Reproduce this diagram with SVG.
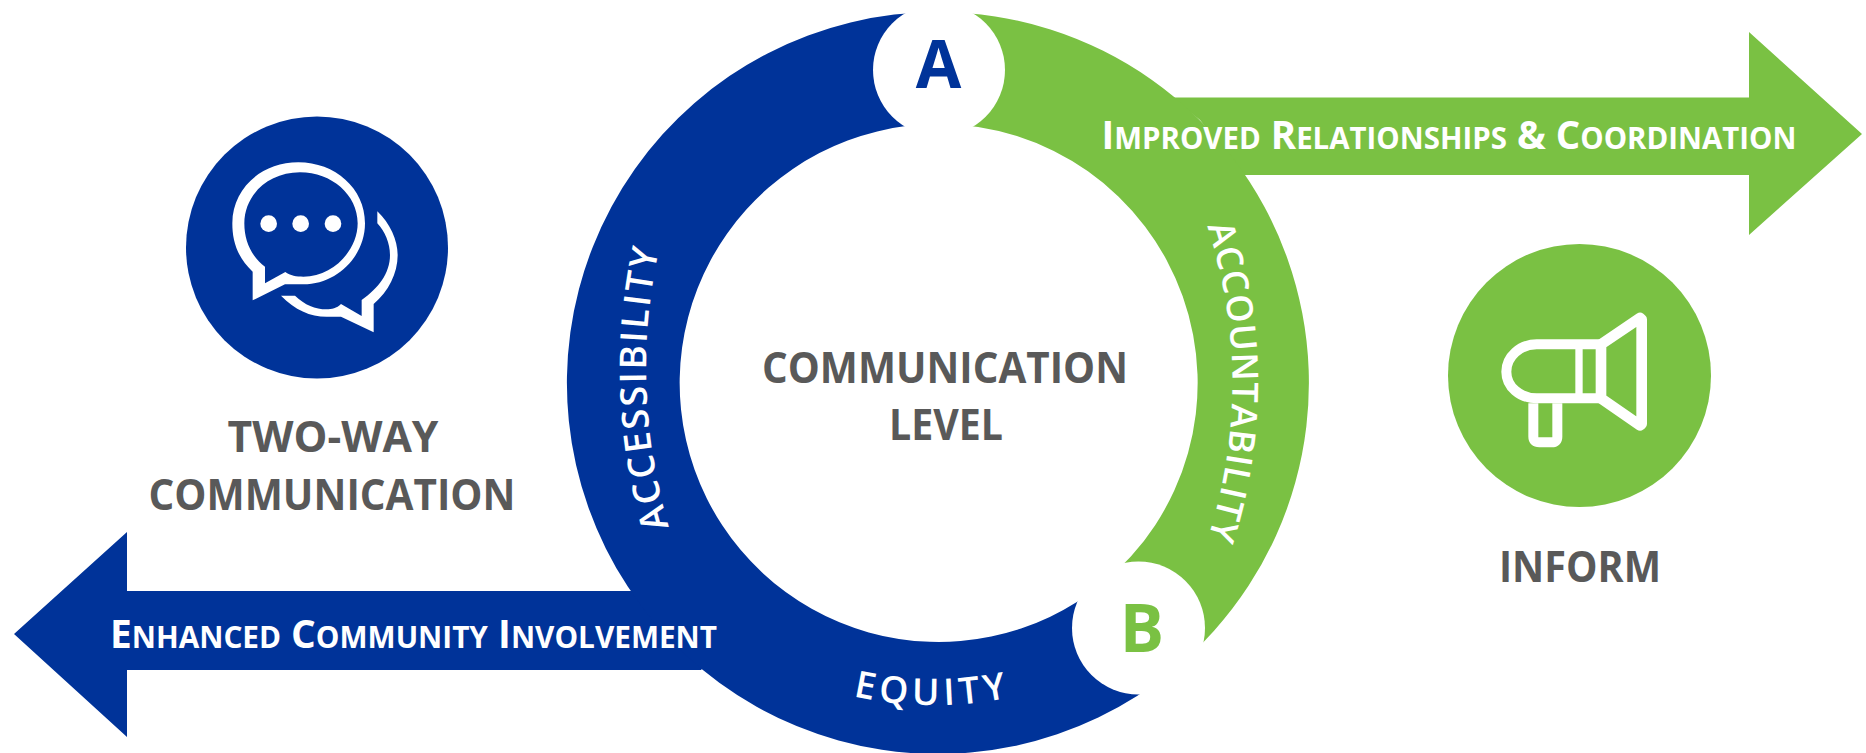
<svg xmlns="http://www.w3.org/2000/svg" width="1866" height="753" viewBox="0 0 1866 753">
<style>
text{font-family:"Open Sans","Liberation Sans",sans-serif;font-weight:700}
.g{fill:#595959;font-size:43px;text-anchor:middle}
.l{font-size:38.500px;fill:#fff}
.s{font-size:29.500px}
.c{fill:#fff;font-weight:600}
.blue{fill:#003399}
.green{fill:#7AC143}
</style>
<defs>
<path id="pa" d="M669,527 A560,560 0 0 1 662,236"/>
<path id="pb" d="M1207,226 A500,500 0 0 1 1203,552"/>
<path id="pc" d="M853,696 A365,365 0 0 0 1020,695"/>
</defs>
<g id="connectors">
<path id="arrow-left" class="blue" d="M631,591 H127 V532 L14,634 L127,737 V670 H701 L760,600 Z"/>
<path id="arrow-right" class="green" d="M1172,97.500 H1749 V32 L1862,134 L1749,235 V175 H1244 L1200,120 Z"/>
</g>
<g id="ring">
<path id="ring-blue" class="blue" d="M938.500,12 A371,371 0 1 0 1173,670 L1102,584 A259,259 0 1 1 938.500,124 Z"/>
<path id="ring-green" class="green" d="M938.500,12 A371,371 0 0 1 1173,670 L1102,584 A259,259 0 0 0 938.500,124 Z"/>
</g>
<g id="node-a"><circle cx="939" cy="70" r="66" fill="#fff"/><text x="938.500" y="87.500" text-anchor="middle" font-size="66" class="blue">A</text></g>
<g id="node-b"><circle cx="1138.500" cy="628" r="66.500" fill="#fff"/><text x="1142" y="652.300" text-anchor="middle" font-size="66" class="green">B</text></g>
<text class="c" font-size="37"><textPath href="#pa" letter-spacing="2.200">ACCESSIBILITY</textPath></text>
<text class="c" font-size="36"><textPath href="#pb" letter-spacing="1">ACCOUNTABILITY</textPath></text>
<text class="c" font-size="37"><textPath href="#pc" letter-spacing="4.800">EQUITY</textPath></text>
<text class="l" x="110" y="648" textLength="607" lengthAdjust="spacingAndGlyphs">E<tspan class="s">NHANCED</tspan> C<tspan class="s">OMMUNITY</tspan> I<tspan class="s">NVOLVEMENT</tspan></text>
<text class="l" x="1101.500" y="149" textLength="695" lengthAdjust="spacingAndGlyphs">I<tspan class="s">MPROVED</tspan> R<tspan class="s">ELATIONSHIPS</tspan> &amp; C<tspan class="s">OORDINATION</tspan></text>
<g id="center"><text class="g" x="945" y="383" textLength="366" lengthAdjust="spacingAndGlyphs">COMMUNICATION</text><text class="g" x="946" y="440" textLength="114" lengthAdjust="spacingAndGlyphs">LEVEL</text></g>
<g id="two-way">
<circle cx="317" cy="247.500" r="131" class="blue"/>
<g transform="translate(180,100) scale(.33333)" fill="#fff">
<path fill-rule="evenodd" d="M218,601 L218,515 C170,470 157,420 157,370 C157,265 245,187 355,187 C465,187 555,265 555,370 C555,470 470,553 370,553 L315,553 Z M255,550 L316,516 C330,527 350,530 370,530 C460,530 533,450 533,370 C533,285 455,217 360,217 C265,217 193,285 193,370 C193,425 215,470 255,500 Z"/>
<circle cx="266" cy="371" r="25"/><circle cx="362" cy="371" r="25"/><circle cx="459" cy="371" r="25"/>
<path d="M592,334 C630,370 653,420 653,465 C653,520 625,575 581,612 L581,697 L483,650 L440,650 C390,650 345,630 303,587 L345,587 C375,615 405,628 440,628 C455,628 470,625 483,612 L545,648 L545,600 C595,565 630,520 630,465 C630,430 615,395 592,370 Z"/>
</g>
<text class="g" x="333" y="452" textLength="211" lengthAdjust="spacingAndGlyphs">TWO-WAY</text><text class="g" x="332" y="510" textLength="367" lengthAdjust="spacingAndGlyphs">COMMUNICATION</text>
</g>
<g id="inform">
<circle cx="1579.500" cy="375.500" r="131.500" class="green"/>
<g transform="translate(1440,240) scale(.33333)" fill="none" stroke="#fff" stroke-width="30" stroke-linejoin="round">
<path d="M483,313 L290,313 C240,313 199,350 199,395 C199,440 240,475 290,475 L483,475"/>
<path d="M417,313 V475" stroke-width="22"/>
<path d="M483,313 V475 L600,556 L605,552 V238 L600,234 Z" stroke-width="32"/>
<path d="M280,490 V590 Q280,607 298,607 H335 Q352,607 352,590 V490"/>
</g>
<text class="g" x="1580" y="582" textLength="162" lengthAdjust="spacingAndGlyphs">INFORM</text>
</g>
</svg>
